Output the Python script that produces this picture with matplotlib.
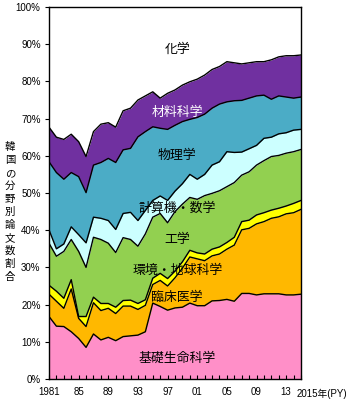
import matplotlib
matplotlib.use("Agg")
import matplotlib.pyplot as plt
import numpy as np

plt.rcParams['font.family'] = ['Liberation Sans', 'Noto Sans CJK JP', 'DejaVu Sans']

years = list(range(1981, 2016))

# cumulative share (%) at the top of each field, bottom -> top
top_kiso = [16.8, 14.2, 14.1, 12.7, 10.9, 8.5, 12.1, 10.5, 11.2, 10.3, 11.4, 11.6, 11.8, 12.7,
            20.4, 19.5, 18.5, 19.1, 19.3, 20.4, 19.7, 19.7, 21.0, 21.1, 21.4, 20.9, 23.0, 23.0,
            22.6, 22.9, 22.9, 22.9, 22.6, 22.6, 22.8]
top_rinsho = [22.8, 20.9, 19.0, 24.2, 16.3, 14.1, 20.5, 18.4, 19.0, 17.6, 19.6, 19.6, 18.7, 19.8,
              25.4, 26.5, 25.0, 27.2, 29.8, 32.8, 32.3, 31.8, 33.1, 33.6, 34.9, 36.0, 40.1, 40.5,
              41.7, 42.3, 43.2, 43.6, 44.4, 44.7, 45.6]
top_kankyo = [25.2, 23.6, 21.7, 26.7, 16.8, 16.8, 22.0, 20.3, 20.3, 19.3, 21.1, 21.2, 20.3, 21.3,
              27.1, 28.4, 27.0, 29.0, 31.5, 34.6, 33.9, 33.6, 34.9, 35.5, 36.7, 38.1, 42.3, 42.7,
              44.1, 44.7, 45.4, 45.9, 46.5, 47.2, 48.0]
top_kogaku = [36.5, 33.0, 34.3, 37.5, 34.3, 30.0, 38.1, 37.5, 36.5, 34.0, 38.0, 37.5, 35.7, 39.0,
              43.5, 44.5, 42.0, 45.0, 47.0, 48.8, 48.3, 49.3, 49.9, 50.6, 51.7, 52.8, 54.8, 55.7,
              57.5, 58.7, 59.8, 60.1, 60.7, 61.1, 61.7]
top_keisan = [40.1, 35.0, 36.3, 40.9, 38.8, 36.6, 43.5, 43.2, 42.6, 40.2, 44.5, 44.8, 42.6, 45.3,
              48.0, 49.2, 48.0, 50.5, 52.5, 55.0, 53.7, 55.0, 57.5, 58.4, 61.1, 60.9, 61.0, 61.9,
              62.8, 64.7, 65.0, 65.9, 66.2, 66.9, 67.1]
top_butsuri = [58.4, 55.5, 53.7, 55.5, 54.4, 50.1, 57.5, 58.2, 59.3, 58.2, 61.6, 62.0, 65.1, 66.5,
               67.8, 67.4, 67.1, 68.2, 69.2, 69.8, 70.3, 71.2, 72.8, 73.9, 74.5, 74.8, 74.9, 75.5,
               76.1, 76.3, 75.2, 76.1, 75.8, 75.5, 75.8]
top_zairyo = [67.7, 65.0, 64.4, 65.8, 63.8, 59.8, 66.5, 68.5, 68.9, 67.7, 72.1, 72.8, 75.0, 76.1,
              77.2, 75.5, 76.8, 77.7, 79.0, 79.9, 80.6, 81.7, 83.2, 84.0, 85.3, 85.0, 84.7, 85.0,
              85.3, 85.3, 85.8, 86.6, 86.9, 86.9, 87.1]
top_kagaku = [100.0] * len(years)

fields = ['基礎生命科学', '臨床医学', '環境・地球科学', '工学', '計算機・数学', '物理学', '材料科学', '化学']
colors = ['#FF8FC8', '#FFB800', '#FFFF00', '#92D050', '#CCFFFF', '#4BACC6', '#7030A0', '#FFFFFF']
tops = [top_kiso, top_rinsho, top_kankyo, top_kogaku, top_keisan, top_butsuri, top_zairyo, top_kagaku]

# label placement (year, %) and text colour
label_pos = [(1998.3, 5.6), (1998.3, 21.8), (1998.3, 29.0), (1998.3, 37.4),
             (1998.3, 45.9), (1998.3, 60.1), (1998.3, 71.6), (1998.3, 88.6)]
label_col = ['black', 'black', 'black', 'black', 'black', 'black', 'white', 'black']

fig = plt.figure(figsize=(3.5, 4.09), dpi=100)
ax = fig.add_axes([49/350, 30/409, 252/350, 372/409])

x = np.array(years)
bottom = np.zeros(len(years))
for name, col, top in zip(fields, colors, tops):
    top = np.array(top)
    ax.fill_between(x, bottom, top, color=col, lw=0)
    bottom = top
for top in tops[:-1]:
    ax.plot(x, top, color='black', lw=1.0)

for name, (px, py), c in zip(fields, label_pos, label_col):
    ax.text(px, py, name, ha='center', va='center', fontsize=9.3, color=c)

ax.set_xlim(1981, 2015)
ax.set_ylim(0, 100)
ax.set_yticks(range(0, 101, 10))
ax.set_yticklabels(['%d%%' % v for v in range(0, 101, 10)], fontsize=7)
ax.tick_params(axis='y', direction='out', length=3, width=0.8, pad=3)

ax.set_xticks(years, minor=True)
ax.set_xticks([1981, 1985, 1989, 1993, 1997, 2001, 2005, 2009, 2013])
ax.set_xticklabels(['1981', '85', '89', '93', '97', '01', '05', '09', '13'], fontsize=7)
ax.tick_params(axis='x', which='both', direction='in', length=3, width=0.8, pad=6)
ax.text(2014.45, -2.6, '2015年(PY)', ha='left', va='top', fontsize=7)

for s in ax.spines.values():
    s.set_linewidth(1.0)

ylab = '韓国の分野別論文数割合'
for i, ch in enumerate(ylab):
    fig.text(10/350, 1 - (147 + i * 13) / 409, ch, ha='center', va='center', fontsize=7.5)

fig.savefig('out.png', dpi=100)
